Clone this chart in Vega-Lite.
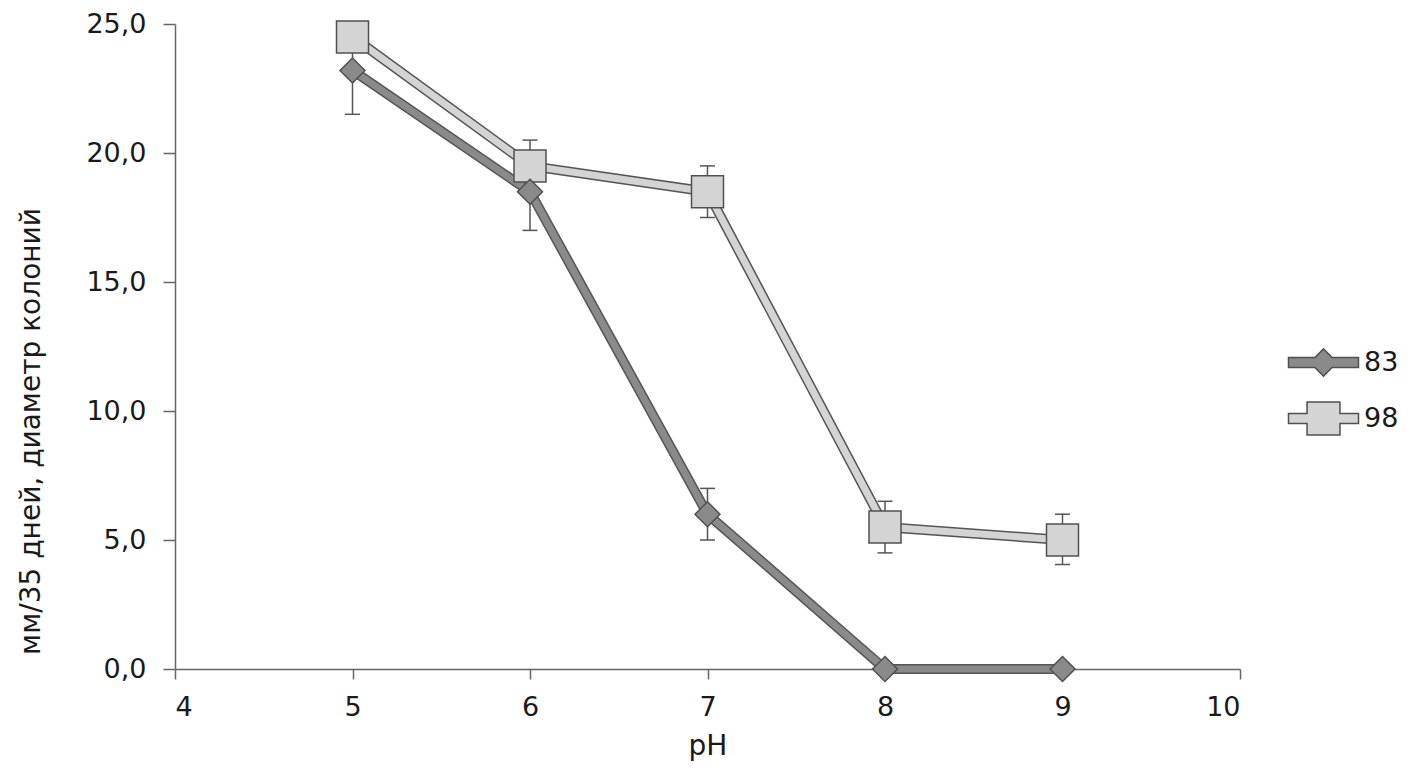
{
  "$schema": "https://vega.github.io/schema/vega-lite/v6.json",
  "width": 1065,
  "height": 645,
  "autosize": {"type": "none"},
  "padding": {"left": 175, "top": 24, "right": 168, "bottom": 109},
  "background": "white",
  "config": {
    "view": {"stroke": null},
    "font": "DejaVu Sans",
    "axis": {
      "domainColor": "#666666",
      "tickColor": "#666666",
      "domainWidth": 1.5,
      "tickWidth": 1.5,
      "labelColor": "#1a1a1a",
      "titleColor": "#1a1a1a",
      "labelFont": "DejaVu Sans",
      "titleFont": "DejaVu Sans",
      "labelFontSize": 27,
      "titleFontSize": 28,
      "titleFontWeight": "normal",
      "grid": false
    },
    "axisX": {"tickSize": 10, "labelPadding": 15, "titlePadding": 12},
    "axisY": {"tickSize": 12, "labelPadding": 17, "titleX": -130, "titleY": 407, "titleAngle": 270, "titleAlign": "center", "titleBaseline": "bottom"}
  },
  "datasets": {
    "pts": [
      {"ph": 5, "series": "98", "val": 24.5},
      {"ph": 6, "series": "98", "val": 19.5},
      {"ph": 7, "series": "98", "val": 18.5},
      {"ph": 8, "series": "98", "val": 5.5},
      {"ph": 9, "series": "98", "val": 5.0},
      {"ph": 5, "series": "83", "val": 23.2},
      {"ph": 6, "series": "83", "val": 18.5},
      {"ph": 7, "series": "83", "val": 6.0},
      {"ph": 8, "series": "83", "val": 0.0},
      {"ph": 9, "series": "83", "val": 0.0}
    ],
    "err": [
      {"ph": 5, "series": "98", "lo": 24.0, "hi": 25.0},
      {"ph": 6, "series": "98", "lo": 18.5, "hi": 20.5},
      {"ph": 7, "series": "98", "lo": 17.5, "hi": 19.5},
      {"ph": 8, "series": "98", "lo": 4.5, "hi": 6.5},
      {"ph": 9, "series": "98", "lo": 4.05, "hi": 6.0},
      {"ph": 5, "series": "83", "lo": 21.5, "hi": 24.9},
      {"ph": 6, "series": "83", "lo": 17.0, "hi": 20.0},
      {"ph": 7, "series": "83", "lo": 5.0, "hi": 7.0}
    ]
  },
  "layer": [
    {
      "data": {"name": "err"},
      "mark": {"type": "rule", "color": "#555555", "strokeWidth": 1.5},
      "encoding": {
        "x": {"field": "ph", "type": "quantitative", "scale": {"domain": [4, 10], "nice": false},
              "axis": {"values": [4, 5, 6, 7, 8, 9, 10], "format": "d", "title": "pH"}},
        "y": {"field": "lo", "type": "quantitative", "scale": {"domain": [0, 25], "nice": false},
              "axis": {"values": [0, 5, 10, 15, 20, 25], "labelExpr": "replace(format(datum.value, '.1f'), '.', ',')", "title": "мм/35 дней, диаметр колоний"}},
        "y2": {"field": "hi"}
      }
    },
    {
      "data": {"name": "err"},
      "mark": {"type": "tick", "orient": "horizontal", "color": "#555555", "size": 15, "thickness": 1.5, "opacity": 1},
      "encoding": {
        "x": {"field": "ph", "type": "quantitative",
              "axis": {"values": [4, 5, 6, 7, 8, 9, 10], "format": "d", "title": "pH"}},
        "y": {"field": "lo", "type": "quantitative",
              "axis": {"values": [0, 5, 10, 15, 20, 25], "labelExpr": "replace(format(datum.value, '.1f'), '.', ',')", "title": "мм/35 дней, диаметр колоний"}}
      }
    },
    {
      "data": {"name": "err"},
      "mark": {"type": "tick", "orient": "horizontal", "color": "#555555", "size": 15, "thickness": 1.5, "opacity": 1},
      "encoding": {
        "x": {"field": "ph", "type": "quantitative",
              "axis": {"values": [4, 5, 6, 7, 8, 9, 10], "format": "d", "title": "pH"}},
        "y": {"field": "hi", "type": "quantitative",
              "axis": {"values": [0, 5, 10, 15, 20, 25], "labelExpr": "replace(format(datum.value, '.1f'), '.', ',')", "title": "мм/35 дней, диаметр колоний"}}
      }
    },
    {
      "data": {"name": "pts"},
      "mark": {"type": "line", "color": "#555555", "strokeWidth": 10},
      "encoding": {
        "x": {"field": "ph", "type": "quantitative",
              "axis": {"values": [4, 5, 6, 7, 8, 9, 10], "format": "d", "title": "pH"}},
        "y": {"field": "val", "type": "quantitative",
              "axis": {"values": [0, 5, 10, 15, 20, 25], "labelExpr": "replace(format(datum.value, '.1f'), '.', ',')", "title": "мм/35 дней, диаметр колоний"}},
        "detail": {"field": "series"}
      }
    },
    {
      "data": {"name": "pts"},
      "mark": {"type": "line", "strokeWidth": 7},
      "encoding": {
        "x": {"field": "ph", "type": "quantitative",
              "axis": {"values": [4, 5, 6, 7, 8, 9, 10], "format": "d", "title": "pH"}},
        "y": {"field": "val", "type": "quantitative",
              "axis": {"values": [0, 5, 10, 15, 20, 25], "labelExpr": "replace(format(datum.value, '.1f'), '.', ',')", "title": "мм/35 дней, диаметр колоний"}},
        "stroke": {"field": "series", "type": "nominal", "scale": {"range": ["#8a8a8a", "#d4d4d4"]}, "legend": null}
      }
    },
    {
      "data": {"name": "pts"},
      "mark": {"type": "point", "filled": true, "opacity": 1, "stroke": "#505050", "strokeWidth": 1.5},
      "encoding": {
        "x": {"field": "ph", "type": "quantitative",
              "axis": {"values": [4, 5, 6, 7, 8, 9, 10], "format": "d", "title": "pH"}},
        "y": {"field": "val", "type": "quantitative",
              "axis": {"values": [0, 5, 10, 15, 20, 25], "labelExpr": "replace(format(datum.value, '.1f'), '.', ',')", "title": "мм/35 дней, диаметр колоний"}},
        "shape": {"condition": {"test": "datum.series === '98'", "value": "square"}, "value": "diamond"},
        "fill": {
          "field": "series", "type": "nominal",
          "scale": {"domain": ["83", "98"], "range": ["#8a8a8a", "#d4d4d4"]},
          "legend": {
            "title": null,
            "orient": "none",
            "legendX": 1130,
            "legendY": 320,
            "padding": 0,
            "rowPadding": 19,
            "labelOffset": 22,
            "labelFontSize": 27,
            "labelColor": "#1a1a1a",
            "labelFont": "DejaVu Sans",
            "symbolSize": 1225,
            "symbolStrokeColor": "#505050",
            "symbolStrokeWidth": 1.5
          }
        },
        "size": {"condition": {"test": "datum.series === '98'", "value": 1024}, "value": 625}
      }
    },
    {
      "data": {"name": "pts"},
      "transform": [{"filter": "datum.ph > 100"}],
      "mark": {"type": "point", "filled": true, "opacity": 1, "stroke": "#505050", "strokeWidth": 1.5},
      "encoding": {
        "x": {"field": "ph", "type": "quantitative",
              "axis": {"values": [4, 5, 6, 7, 8, 9, 10], "format": "d", "title": "pH"}},
        "y": {"field": "val", "type": "quantitative",
              "axis": {"values": [0, 5, 10, 15, 20, 25], "labelExpr": "replace(format(datum.value, '.1f'), '.', ',')", "title": "мм/35 дней, диаметр колоний"}},
        "shape": {
          "field": "series", "type": "nominal",
          "scale": {"domain": ["83", "98"], "range": [
            "M-2,-0.29L-0.49,-0.29L0,-0.78L0.49,-0.29L2,-0.29L2,0.29L0.49,0.29L0,0.78L-0.49,0.29L-2,0.29Z",
            "M-2,-0.29L-0.94,-0.29L-0.94,-0.94L0.94,-0.94L0.94,-0.29L2,-0.29L2,0.29L0.94,0.29L0.94,0.94L-0.94,0.94L-0.94,0.29L-2,0.29Z"
          ]},
          "legend": {
            "title": null,
            "orient": "none",
            "legendX": 1130,
            "legendY": 320,
            "padding": 0,
            "rowPadding": 19,
            "labelOffset": 22,
            "labelFontSize": 27,
            "labelColor": "#1a1a1a",
            "labelFont": "DejaVu Sans",
            "symbolSize": 1225,
            "symbolStrokeColor": "#505050",
            "symbolStrokeWidth": 1.5
          }
        },
        "fill": {"field": "series", "type": "nominal"}
      }
    }
  ]
}
